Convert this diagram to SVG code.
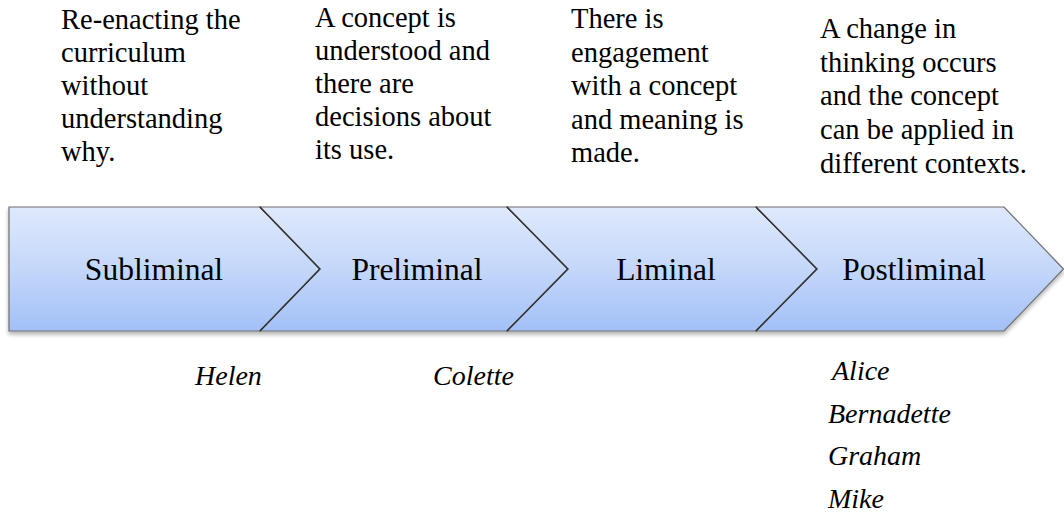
<svg xmlns="http://www.w3.org/2000/svg" width="1064" height="513" viewBox="0 0 1064 513">
<defs>
<linearGradient id="g" x1="0" y1="0" x2="0" y2="1">
<stop offset="0" stop-color="#dfe9fc"/>
<stop offset="0.5" stop-color="#c4d7fa"/>
<stop offset="1" stop-color="#a2c0f7"/>
</linearGradient>
<filter id="sh" x="-5%" y="-10%" width="110%" height="130%">
<feGaussianBlur in="SourceAlpha" stdDeviation="2"/>
<feOffset dx="0" dy="3" result="b"/>
<feComponentTransfer><feFuncA type="linear" slope="0.3"/></feComponentTransfer>
<feMerge><feMergeNode/><feMergeNode in="SourceGraphic"/></feMerge>
</filter>
</defs>
<style>
.seg{fill:url(#g);stroke:#6e6e6e;stroke-width:1.2}
.tip{fill:none;stroke:#333;stroke-width:1.3}
text{font-family:'Liberation Serif','Times New Roman',serif;fill:#000}
.lbl{font-size:31.5px;text-anchor:middle}
.desc{font-size:28.5px}
.name{font-size:28px;font-style:italic}
</style>
<g id="band" filter="url(#sh)">
<g id="subliminal"><path class="seg" d="M9,207 H260 L320,269 L260,331 H9 Z"/><path class="tip" d="M260,207 L320,269 L260,331"/></g>
<g id="preliminal"><path class="seg" d="M260,207 H507 L568,269 L507,331 H260 L320,269 Z"/><path class="tip" d="M260,207 L320,269 L260,331"/><path class="tip" d="M507,207 L568,269 L507,331"/></g>
<g id="liminal"><path class="seg" d="M507,207 H756 L817,269 L756,331 H507 L568,269 Z"/><path class="tip" d="M507,207 L568,269 L507,331"/><path class="tip" d="M756,207 L817,269 L756,331"/></g>
<g id="postliminal"><path class="seg" d="M756,207 H1004 L1063.5,269 L1004,331 H756 L817,269 Z"/><path class="tip" d="M756,207 L817,269 L756,331"/></g>
</g>
<g id="labels">
<text class="lbl" x="154" y="280">Subliminal</text>
<text class="lbl" x="417" y="280">Preliminal</text>
<text class="lbl" x="666" y="280">Liminal</text>
<text class="lbl" x="914" y="280">Postliminal</text>
</g>
<g id="connectors"></g>
<g id="desc-subliminal"><text class="desc"><tspan x="61" y="29">Re-enacting the</tspan><tspan x="61" dy="33">curriculum</tspan><tspan x="61" dy="33">without</tspan><tspan x="61" dy="33">understanding</tspan><tspan x="61" dy="33">why.</tspan></text></g>
<g id="desc-preliminal"><text class="desc"><tspan x="315" y="27">A concept is</tspan><tspan x="315" dy="33">understood and</tspan><tspan x="315" dy="33">there are</tspan><tspan x="315" dy="33">decisions about</tspan><tspan x="315" dy="33">its use.</tspan></text></g>
<g id="desc-liminal"><text class="desc"><tspan x="571" y="28">There is</tspan><tspan x="571" dy="33.5">engagement</tspan><tspan x="571" dy="33.5">with a concept</tspan><tspan x="571" dy="33.5">and meaning is</tspan><tspan x="571" dy="33.5">made.</tspan></text></g>
<g id="desc-postliminal"><text class="desc"><tspan x="820" y="38">A change in</tspan><tspan x="820" dy="33.7">thinking occurs</tspan><tspan x="820" dy="33.7">and the concept</tspan><tspan x="820" dy="33.7">can be applied in</tspan><tspan x="820" dy="33.7">different contexts.</tspan></text></g>
<g id="names">
<text class="name" x="195" y="385">Helen</text>
<text class="name" x="433" y="385">Colette</text>
<text class="name" x="832" y="380">Alice</text>
<text class="name" x="828" y="423">Bernadette</text>
<text class="name" x="828" y="465">Graham</text>
<text class="name" x="828" y="508">Mike</text>
</g>
</svg>
